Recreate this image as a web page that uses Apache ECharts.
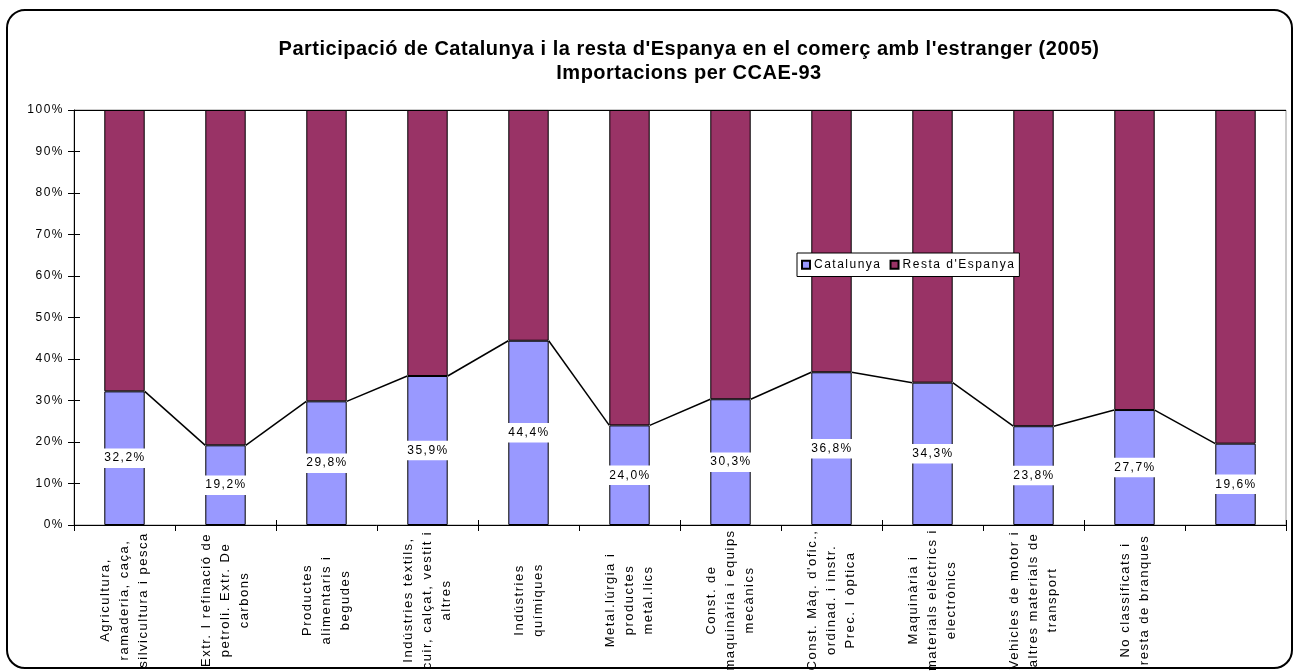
<!DOCTYPE html>
<html lang="ca">
  <head>
    <meta charset="UTF-8" />
    <title>Importacions per CCAE-93</title>
    <script src="https://cdn.jsdelivr.net/npm/echarts@6/dist/echarts.min.js"></script>
    <style>
      html, body { margin: 0; padding: 0; background: #fff; }
      #main { width: 1297px; height: 671px; }
    </style>
  </head>
  <body>
    <div id="main"></div>
    <script>
      // dades
      var titleLines = [
        "Participació de Catalunya i la resta d'Espanya en el comerç amb l'estranger (2005)",
        "Importacions per CCAE-93"
      ];
      var sectors = [
        "Agricultura,\nramaderia, caça,\nsilvicultura i pesca",
        "Extr. I refinació de\npetroli. Extr. De\ncarbons",
        "Productes\nalimentaris i\nbegudes",
        "Indústries tèxtils,\ncuir, calçat, vestit i\naltres",
        "Indústries\nquímiques",
        "Metal.lúrgia i\nproductes\nmetàl.lics",
        "Const. de\nmaquinària i equips\nmecànics",
        "Const. Màq. d'ofic.,\nordinad. i instr.\nPrec. I òptica",
        "Maquinària i\nmaterials elèctrics i\nelectrònics",
        "Vehicles de motor i\naltres materials de\ntransport",
        "No classificats i\nresta de branques",
        ""
      ];
      var catalunya = [32.2, 19.2, 29.8, 35.9, 44.4, 24.0, 30.3, 36.8, 34.3, 23.8, 27.7, 19.6];
      var resta = [67.8, 80.8, 70.2, 64.1, 55.6, 76.0, 69.7, 63.2, 65.7, 76.2, 72.3, 80.4];
      var seriesNames = ["Catalunya", "Resta d'Espanya"];

      // el text d'Excel surt més espaiat
      var fontDesc = Object.getOwnPropertyDescriptor(CanvasRenderingContext2D.prototype, "font");
      Object.defineProperty(CanvasRenderingContext2D.prototype, "font", {
        configurable: true,
        get: function () { return fontDesc.get.call(this); },
        set: function (v) {
          fontDesc.set.call(this, v);
          if ("letterSpacing" in this) this.letterSpacing = /bold/.test(v) ? "0.5px" : "1.5px";
        }
      });

      var lineData = [];
      for (var i = 0; i < catalunya.length - 1; i++) {
        lineData.push([i, catalunya[i], catalunya[i + 1]]);
      }

      var font = "Arial, 'Liberation Sans', sans-serif";
      var myChart = echarts.init(document.getElementById("main"));
      var option = {
        backgroundColor: "#fff",
        animation: false,
        textStyle: { fontFamily: font, color: "#000" },
        graphic: [
          {
            type: "rect",
            shape: { x: 7, y: 10, width: 1285, height: 658, r: 18 },
            style: { fill: "none", stroke: "#000", lineWidth: 2 },
            z: 100
          },
          {
            type: "text",
            x: 689,
            y: 37,
            style: {
              text: titleLines.join("\n"),
              fontFamily: font,
              fontSize: 20,
              fontWeight: "bold",
              lineHeight: 24,
              align: "center",
              verticalAlign: "top",
              fill: "#000"
            }
          }
        ],
        legend: {
          data: seriesNames,
          left: 797,
          top: 253,
          orient: "horizontal",
          backgroundColor: "#fff",
          borderColor: "#000",
          borderWidth: 1,
          borderRadius: 0,
          padding: [5, 4, 5, 4],
          itemGap: 8,
          itemWidth: 8,
          itemHeight: 8,
          icon: "rect",
          textStyle: { fontSize: 12, color: "#000", padding: [0, 0, 0, -1] },
          z: 10
        },
        grid: {
          left: 74,
          right: 11,
          top: 110,
          bottom: 146,
          outerBoundsMode: "none",
          show: true,
          borderColor: "#999",
          borderWidth: 1,
          backgroundColor: "#fff"
        },
        xAxis: [
          {
            type: "category",
            data: sectors,
            axisLine: { lineStyle: { color: "#000", width: 1 } },
            axisTick: { show: true, length: 6, lineStyle: { color: "#000" } },
            axisLabel: {
              rotate: 90,
              align: "center",
              verticalAlign: "middle",
              margin: 75,
              interval: 0,
              fontSize: 13,
              lineHeight: 19,
              color: "#000"
            },
            splitLine: { show: false }
          },
          {
            type: "category",
            data: sectors,
            position: "bottom",
            axisLine: { show: false },
            axisTick: { show: true, inside: true, length: 5, lineStyle: { color: "#000" } },
            axisLabel: { show: false },
            splitLine: { show: false }
          }
        ],
        yAxis: [
          {
            type: "value",
            min: 0,
            max: 100,
            interval: 10,
            axisLine: { show: true, lineStyle: { color: "#000", width: 1 } },
            axisTick: { show: true, length: 6, lineStyle: { color: "#000" } },
            axisLabel: { formatter: "{value}%", fontSize: 12, color: "#000", margin: 10 },
            splitLine: {
              show: true,
              lineStyle: {
                color: ["rgba(0,0,0,0)", "rgba(0,0,0,0)", "rgba(0,0,0,0)", "rgba(0,0,0,0)",
                  "rgba(0,0,0,0)", "rgba(0,0,0,0)", "rgba(0,0,0,0)", "rgba(0,0,0,0)",
                  "rgba(0,0,0,0)", "rgba(0,0,0,0)", "#000"]
              }
            }
          },
          {
            type: "value",
            min: 0,
            max: 100,
            interval: 10,
            position: "left",
            axisLine: { show: false },
            axisTick: { show: true, inside: true, length: 6, lineStyle: { color: "#000" } },
            axisLabel: { show: false },
            splitLine: { show: false }
          }
        ],
        series: [
          {
            name: seriesNames[0],
            type: "bar",
            stack: "total",
            barWidth: "40%",
            data: catalunya,
            itemStyle: { color: "#9999FF", borderColor: "#000", borderWidth: 1 },
            label: {
              show: true,
              position: "inside",
              color: "#000",
              fontSize: 12,
              backgroundColor: "#fff",
              padding: [3, 1, 3, 2],
              formatter: function (p) {
                return p.value.toFixed(1).replace(".", ",") + "%";
              }
            }
          },
          {
            name: seriesNames[1],
            type: "bar",
            stack: "total",
            barWidth: "40%",
            data: resta,
            itemStyle: { color: "#993366", borderColor: "#000", borderWidth: 1 }
          },
          {
            // línies de sèrie entre columnes
            type: "custom",
            data: lineData,
            encode: { x: 0, y: 1 },
            z: 5,
            silent: true,
            renderItem: function (params, api) {
              var a = api.coord([api.value(0), api.value(1)]);
              var b = api.coord([api.value(0) + 1, api.value(2)]);
              var half = api.size([1, 0])[0] * 0.2;
              return {
                type: "line",
                shape: { x1: a[0] + half, y1: a[1], x2: b[0] - half, y2: b[1] },
                style: { stroke: "#000", lineWidth: 1.5 }
              };
            }
          }
        ]
      };
      myChart.setOption(option);
    </script>
  </body>
</html>
